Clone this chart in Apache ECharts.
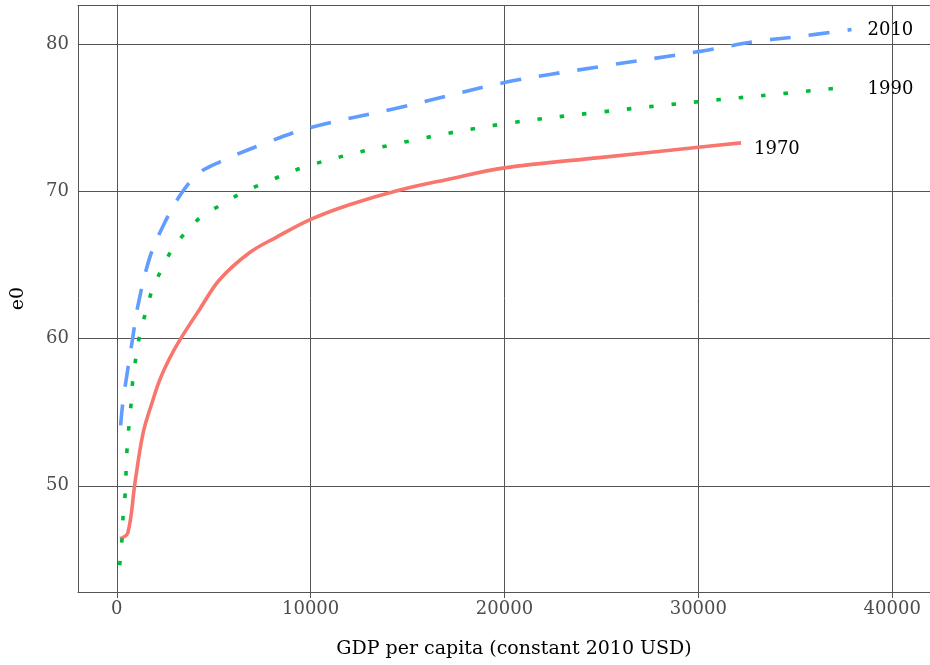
<!DOCTYPE html>
<html>
<head>
<meta charset="utf-8">
<script src="https://cdn.jsdelivr.net/npm/echarts@6/dist/echarts.min.js"></script>
<style>html,body{margin:0;padding:0;background:#fff}#c{width:930px;height:665px}</style>
</head>
<body>
<div id="c"></div>
<script>
var seriesNames = ['1970', '1990', '2010'];
var xTitle = 'GDP per capita (constant 2010 USD)';
var yTitle = 'e0';
var data1970 = [[170,46.4],[570,46.8],[940,50.2],[1360,53.6],[1870,55.85],[2216,57.2],[2700,58.6],[3250,59.9],[4280,62.0],[5300,64.0],[6860,65.85],[8250,66.9],[10000,68.1],[12000,69.1],[14600,70.1],[17000,70.8],[20000,71.6],[24900,72.3],[30000,73.0],[32200,73.3]];
var data1990 = [[150,44.6],[270,46.4],[325,47.9],[430,49.4],[480,51.0],[530,52.5],[630,54.1],[740,55.6],[830,57.2],[1190,60.3],[1500,61.8],[1800,63.2],[2270,64.6],[2830,66.0],[3540,67.2],[4380,68.3],[5400,69.1],[6440,69.9],[7470,70.5],[10000,71.8],[15000,73.4],[20000,74.6],[25000,75.4],[30000,76.1],[34000,76.6],[37700,77.1]];
var data2010 = [[200,54.1],[300,55.5],[460,57.0],[770,59.6],[1100,62.3],[1700,65.5],[2370,67.6],[3250,69.7],[4200,71.2],[5300,72.0],[7500,73.2],[10000,74.35],[14600,75.7],[20000,77.4],[25000,78.5],[30000,79.5],[33000,80.2],[35000,80.5],[37900,81.0]];

var FONT = 'DejaVu Serif';
var chart = echarts.init(document.getElementById('c'), null, {renderer: 'canvas'});
var lineCol = '#555';
function mk(name, data, color, type, off) {
  return {
    name: name, type: 'line', data: data, xAxisIndex: 0, yAxisIndex: 0,
    showSymbol: false, symbol: 'none', smooth: 0.35,
    lineStyle: {color: color, width: 3.6, type: type, cap: 'butt'},
    itemStyle: {color: color},
    endLabel: {show: true, formatter: '{a}', color: '#000', fontSize: 18, fontFamily: FONT, distance: off[0], offset: [0, off[1]]},
    emphasis: {disabled: true}
  };
}
function plain(v) { return String(v); }
chart.setOption({
  animation: false,
  backgroundColor: '#fff',
  grid: {left: 78, right: 0, top: 5, bottom: 73, containLabel: false, outerBoundsMode: 'none'},
  xAxis: [{
    type: 'value', min: -2000, max: 41950, splitNumber: 4,
    name: xTitle, nameLocation: 'middle', nameGap: 48,
    nameTextStyle: {color: '#000', fontSize: 19, fontFamily: FONT, padding: [0, 0, 0, 20]},
    axisLine: {show: true, lineStyle: {color: lineCol, width: 1}},
    axisTick: {show: true, length: 6, lineStyle: {color: lineCol}},
    axisLabel: {color: '#4d4d4d', fontSize: 18, fontFamily: FONT, margin: 8, showMinLabel: false, showMaxLabel: false, formatter: plain},
    splitLine: {show: true, lineStyle: {color: lineCol, width: 1}}
  }, {
    type: 'value', position: 'top', min: -2000, max: 41950,
    axisLine: {show: true, lineStyle: {color: lineCol, width: 1}},
    axisTick: {show: false}, axisLabel: {show: false}, splitLine: {show: false}
  }],
  yAxis: {
    type: 'value', min: 42.78, max: 82.67, splitNumber: 4,
    name: yTitle, nameLocation: 'middle', nameGap: 50,
    nameTextStyle: {color: '#000', fontSize: 19, fontFamily: FONT},
    axisLine: {show: true, lineStyle: {color: lineCol, width: 1}},
    axisTick: {show: true, length: 6, lineStyle: {color: lineCol}},
    axisLabel: {color: '#4d4d4d', fontSize: 18, fontFamily: FONT, margin: 9, showMinLabel: false, showMaxLabel: false, formatter: plain},
    splitLine: {show: true, lineStyle: {color: lineCol, width: 1}}
  },
  series: [
    mk(seriesNames[0], data1970, '#F8766D', 'solid', [13, 6]),
    mk(seriesNames[1], data1990, '#00BA38', [4.5, 18], [20, 2]),
    mk(seriesNames[2], data2010, '#619CFF', [21, 18], [16, 1])
  ]
});
</script>
</body>
</html>
